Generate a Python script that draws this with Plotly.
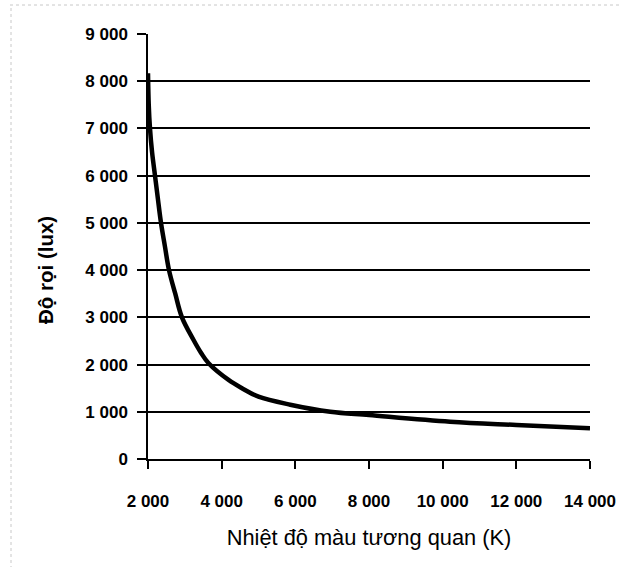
import plotly.graph_objects as go

cct_k = [2000, 2020, 2054, 2110, 2190, 2270, 2353, 2460, 2570, 2740, 2922, 3237, 3438, 3645, 4187, 4550, 5000, 5862, 6950, 8000, 10200, 12000, 14000]
illuminance_lux = [8170, 7500, 7000, 6500, 6000, 5500, 5000, 4500, 4000, 3500, 3000, 2520, 2250, 2027, 1674, 1500, 1320, 1150, 1000, 930, 790, 720, 650]

x_ticks = [2000, 4000, 6000, 8000, 10000, 12000, 14000]
x_ticklabels = ["2 000", "4 000", "6 000", "8 000", "10 000", "12 000", "14 000"]
y_ticks = [0, 1000, 2000, 3000, 4000, 5000, 6000, 7000, 8000, 9000]
y_ticklabels = ["0", "1 000", "2 000", "3 000", "4 000", "5 000", "6 000", "7 000", "8 000", "9 000"]

fig = go.Figure()
fig.add_trace(go.Scatter(
    x=cct_k, y=illuminance_lux, mode="lines",
    line=dict(color="black", width=4.5, shape="spline", smoothing=1.0, simplify=False),
    showlegend=False, hoverinfo="skip",
))

font_family = "Liberation Sans, Arial, sans-serif"

def px_x(p):
    return (p - 148) / 442

def px_y(p):
    return (459 - p) / 425

border = dict(color="#c8c8c8", width=1, dash="dot")
fig.update_layout(
    width=620, height=567,
    margin=dict(l=148, r=30, t=34, b=108, autoexpand=False),
    paper_bgcolor="white", plot_bgcolor="white",
    font=dict(family=font_family, color="black"),
    xaxis=dict(
        range=[2000, 14000], tickvals=x_ticks, ticktext=x_ticklabels,
        showgrid=False, zeroline=False,
        showline=True, linecolor="black", linewidth=1.5,
        ticks="outside", ticklen=8, tickwidth=1.5, tickcolor="black",
        ticklabelstandoff=18,
        tickfont=dict(size=17, family=font_family, weight="bold"),
        title=dict(text="Nhiệt độ màu tương quan (K)", font=dict(size=21.8), standoff=20),
    ),
    yaxis=dict(
        range=[0, 9000], tickvals=y_ticks, ticktext=y_ticklabels,
        showgrid=True, gridcolor="black", gridwidth=1.5,
        zeroline=False,
        showline=True, linecolor="black", linewidth=1.5,
        ticks="outside", ticklen=9, tickwidth=1.5, tickcolor="black",
        ticklabelstandoff=6,
        tickfont=dict(size=17, family=font_family, weight="bold"),
    ),
    annotations=[dict(
        text="<b>Độ rọi (lux)</b>", textangle=-90,
        xref="paper", yref="paper",
        x=px_x(45), y=px_y(270),
        xanchor="center", yanchor="middle", showarrow=False,
        font=dict(size=20.5, family=font_family, color="black"),
    )],
    shapes=[
        dict(type="line", xref="paper", yref="paper",
             x0=px_x(10), x1=px_x(620), y0=px_y(5), y1=px_y(5), line=border),
        dict(type="line", xref="paper", yref="paper",
             x0=px_x(11), x1=px_x(11), y0=px_y(8), y1=px_y(567), line=border),
    ],
)

fig.write_html("out.html", config={"displayModeBar": False},
               post_script="document.body.style.margin='0';")
